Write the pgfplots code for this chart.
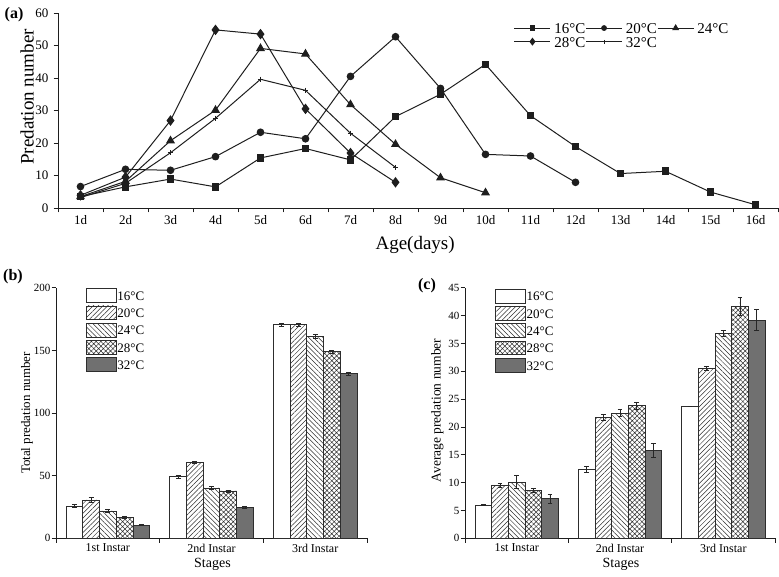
\documentclass[border=0pt]{standalone}
\usepackage{fontspec}
\setmainfont{Liberation Serif}
\usepackage{pgfplots}
\pgfplotsset{compat=1.18}
\usetikzlibrary{patterns.meta}

\definecolor{lineC}{RGB}{30,30,30}
\definecolor{edgeC}{RGB}{45,45,45}
\definecolor{barGray}{RGB}{112,112,112}

\newcommand{\fs}[1]{\fontsize{#1bp}{#1bp}\selectfont}

\pgfplotsset{
  common/.style={
    scale only axis,
    axis x line=bottom, axis y line=left,
    axis line style={-, line width=0.8bp, draw=lineC},
    tick align=outside,
    major tick length=0bp,
    minor tick length=4.5bp,
    every tick/.style={line width=0.8bp, draw=lineC},
    /pgf/number format/assume math mode=true,
    clip=false,
  },
  curve/.style={lineC, line width=1bp},
  bar16/.style={fill=white, draw=edgeC, line width=0.7bp},
  bar20/.style={draw=edgeC, line width=0.7bp, pattern={Lines[angle=45,distance=3.4bp,line width=0.5bp]}, pattern color=edgeC},
  bar24/.style={draw=edgeC, line width=0.7bp, pattern={Lines[angle=135,distance=3.4bp,line width=0.5bp]}, pattern color=edgeC},
  bar28/.style={draw=edgeC, line width=0.7bp, pattern={Hatch[angle=45,distance=3.4bp,line width=0.5bp]}, pattern color=edgeC},
  bar32/.style={fill=barGray, draw=edgeC, line width=0.7bp},
  errb/.style={error bars/.cd, y dir=both, y explicit,
    error bar style={line width=0.6bp, draw=black!85},
    error mark options={rotate=90, line width=0.6bp, mark size=2.4bp, draw=black!85}},
  barpanel/.style={
    common,
    width=310bp, height=250.5bp,
    ybar, bar width=0.161,
    xmin=0.5, xmax=3.5, ymin=0,
    xtick={1,2,3}, xticklabels={1st Instar,2nd Instar,3rd Instar},
    minor xtick={0.5,1.5,2.5,3.5},
    xticklabel style={font=\fs{12}, yshift=-2bp},
    yticklabel style={font=\fs{11}, xshift=-2bp},
    xlabel={Stages},
    xlabel style={font=\fs{14}, at={(axis description cs:0.503,-0.105)}, anchor=center},
    legend cell align=left,
    legend style={draw=none, fill=none, inner sep=0pt, font=\fs{13},
      nodes={inner sep=0.6bp}, row sep=2.8bp},
    legend image code/.code={\draw[#1] (0bp,-5.6bp) rectangle (30bp,8.2bp);},
  },
}

\begin{document}
\begin{tikzpicture}
\useasboundingbox (0,0) rectangle (779bp,577bp);

% (a) daily predation by age
\begin{axis}[common,
  at={(58bp,369bp)}, anchor=south west,
  width=720bp, height=195bp,
  xmin=0.5, xmax=16.5, ymin=0, ymax=60,
  xtick={1,...,16},
  xticklabels={1d,2d,3d,4d,5d,6d,7d,8d,9d,10d,11d,12d,13d,14d,15d,16d},
  minor xtick={0.5,1.5,...,16.5},
  ytick={0,10,...,60}, minor ytick={0,10,...,60},
  tick label style={font=\fs{13}},
  xticklabel style={yshift=-4bp},
  yticklabel style={xshift=-6bp},
  xlabel={Age(days)}, ylabel={Predation number},
  xlabel style={font=\fs{19}, at={(axis description cs:0.496,-0.19)}, anchor=center},
  ylabel style={font=\fs{19}, at={(axis description cs:-0.043,0.57)}, anchor=center},
  legend columns=3,
  legend style={draw=none, fill=none, at={(axis description cs:0.633,0.947)}, anchor=north west,
    font=\fs{15}, inner sep=0pt, nodes={inner sep=0.3bp}, row sep=1.5bp,
    /tikz/every even column/.append style={column sep=0bp},
    /tikz/every odd column/.append style={column sep=3bp}},
  legend image code/.code={\draw[mark repeat=2,mark phase=2,#1,every mark/.append style={scale=0.72}]
    plot coordinates {(0bp,1.5bp) (18bp,1.5bp) (36bp,1.5bp)};},
]
\addplot[curve, mark=square*, mark size=3.3bp] coordinates {
  (1,3.5) (2,6.5) (3,8.9) (4,6.5) (5,15.4) (6,18.3) (7,14.8) (8,28.1)
  (9,35.0) (10,44.2) (11,28.4) (12,18.9) (13,10.6) (14,11.3) (15,4.9) (16,1.0)};
\addplot[curve, mark=*, mark size=3.3bp] coordinates {
  (1,6.6) (2,11.9) (3,11.6) (4,15.8) (5,23.3) (6,21.3) (7,40.5) (8,52.7)
  (9,36.8) (10,16.5) (11,16.0) (12,7.9)};
\addplot[curve, mark=triangle*, mark size=4.2bp] coordinates {
  (1,3.5) (2,8.2) (3,20.7) (4,30.1) (5,49.1) (6,47.4) (7,31.8) (8,19.6)
  (9,9.3) (10,4.7)};
\addplot[curve, mark=diamond*, mark size=4.5bp] coordinates {
  (1,3.9) (2,9.5) (3,26.9) (4,54.8) (5,53.5) (6,30.5) (7,16.9) (8,7.9)};
\addplot[curve, mark=+, mark size=2.6bp, mark options={line width=0.6bp}] coordinates {
  (1,3.2) (2,7.6) (3,17.0) (4,27.6) (5,39.6) (6,36.2) (7,23.0) (8,12.5)};
\legend{16°C,20°C,24°C,28°C,32°C}
\end{axis}

% (b) total predation per instar
\begin{axis}[barpanel,
  at={(56bp,38.7bp)}, anchor=south west, width=311bp,
  ymax=200, ytick={0,50,...,200}, minor ytick={0,50,...,200},
  ylabel={Total predation number},
  ylabel style={font=\fs{13}, at={(axis description cs:-0.093,0.5)}, anchor=center},
  legend style={at={(axis description cs:0.096,0.999)}, anchor=north west},
]
\addplot[bar16, bar shift=-0.322, errb] coordinates {(1,25.8) +- (0,1.2) (2,49.2) +- (0,1.2) (3,170.5) +- (0,1.0)};
\addplot[bar20, bar shift=-0.161, errb] coordinates {(1,30.6) +- (0,1.8) (2,60.6) +- (0,0.8) (3,170.5) +- (0,1.2)};
\addplot[bar24, bar shift=0, errb] coordinates {(1,21.8) +- (0,1.0) (2,40.2) +- (0,1.0) (3,161.2) +- (0,1.8)};
\addplot[bar28, bar shift=0.161, errb] coordinates {(1,17.0) +- (0,0.8) (2,37.8) +- (0,0.8) (3,148.9) +- (0,1.5)};
\addplot[bar32, bar shift=0.322, errb] coordinates {(1,10.6) +- (0,0.6) (2,24.7) +- (0,0.5) (3,131.4) +- (0,1.4)};
\legend{16°C,20°C,24°C,28°C,32°C}
\end{axis}

% (c) average predation per instar
\begin{axis}[barpanel,
  at={(465bp,38.7bp)}, anchor=south west, width=310bp,
  ymax=45, ytick={0,5,...,45}, minor ytick={0,5,...,45},
  ylabel={Average predation number},
  ylabel style={font=\fs{13.5}, at={(axis description cs:-0.089,0.51)}, anchor=center},
  legend style={at={(axis description cs:0.097,0.997)}, anchor=north west},
]
\addplot[bar16, bar shift=-0.322, errb] coordinates {(1,6.0) +- (0,0.1) (2,12.4) +- (0,0.6) (3,23.7) +- (0,0.05)};
\addplot[bar20, bar shift=-0.161, errb] coordinates {(1,9.5) +- (0,0.3) (2,21.7) +- (0,0.5) (3,30.5) +- (0,0.4)};
\addplot[bar24, bar shift=0, errb] coordinates {(1,10.1) +- (0,1.2) (2,22.5) +- (0,0.6) (3,36.8) +- (0,0.6)};
\addplot[bar28, bar shift=0.161, errb] coordinates {(1,8.6) +- (0,0.3) (2,23.8) +- (0,0.7) (3,41.7) +- (0,1.6)};
\addplot[bar32, bar shift=0.322, errb] coordinates {(1,7.1) +- (0,0.8) (2,15.8) +- (0,1.3) (3,39.2) +- (0,1.9)};
\legend{16°C,20°C,24°C,28°C,32°C}
\end{axis}

% panel letters
\node[font=\bfseries\fs{16}] at (14bp,562bp) {(a)};
\node[font=\bfseries\fs{16}] at (13bp,300bp) {(b)};
\node[font=\bfseries\fs{16}] at (427bp,291bp) {(c)};
\end{tikzpicture}
\end{document}
